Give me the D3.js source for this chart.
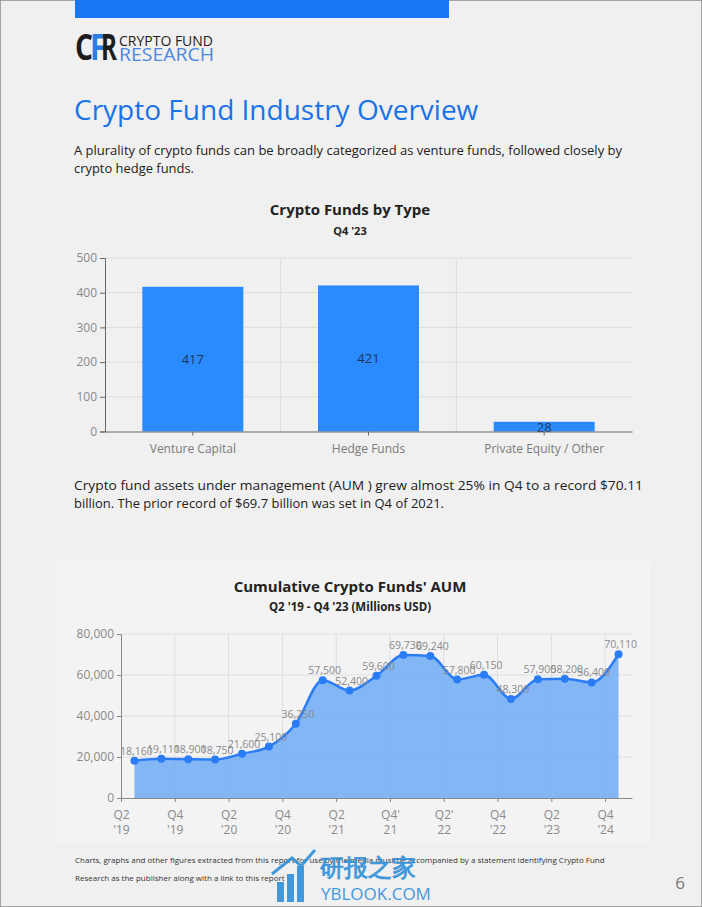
<!DOCTYPE html>
<html>
<head>
<meta charset="utf-8">
<script src="https://cdn.jsdelivr.net/npm/d3@7"></script>
<style>
  html, body { margin: 0; padding: 0; background: #f0f0f0; }
  svg { display: block; }
  text { font-family: "Open Sans", "Noto Sans", sans-serif; }
</style>
</head>
<body>
<svg id="page" width="702" height="907"></svg>
<script>
// ---------- data ----------
const barCategories = ["Venture Capital", "Hedge Funds", "Private Equity / Other"];
const barValues = [417, 421, 28];
const barTicks = [0, 100, 200, 300, 400, 500];

const aumQuarters = ["Q2 '19","Q3 '19","Q4 '19","Q1 '20","Q2 '20","Q3 '20","Q4 '20",
  "Q1 '21","Q2 '21","Q3 '21","Q4 '21","Q1 '22","Q2 '22","Q3 '22","Q4 '22",
  "Q1 '23","Q2 '23","Q3 '23","Q4 '23"];
const aumValues = [18160, 19110, 18900, 18750, 21600, 25100, 36250,
  57500, 52400, 59600, 69730, 69240, 57800, 60150, 48300,
  57900, 58200, 56400, 70110];
const aumTicks = [0, 20000, 40000, 60000, 80000];
const aumTickLabels = [["Q2","'19"],["Q4","'19"],["Q2","'20"],["Q4","'20"],["Q2","'21"],
  ["Q4'","21"],["Q2'","22"],["Q4","'22"],["Q2","'23"],["Q4","'24"]];

// ---------- page ----------
const svg = d3.select("#page");
svg.append("rect").attr("x",0).attr("y",0).attr("width",702).attr("height",907)
  .attr("fill","#f0f0f0").attr("stroke","#8a8a8a").attr("stroke-width",1.5);

// top stripe
svg.append("rect").attr("x",75).attr("y",0).attr("width",374).attr("height",18).attr("fill","#1877f2");

// logo
const logo = svg.append("g");
const logoLetter = (ch, x, w, col) => logo.append("text").attr("x",x).attr("y",60)
  .attr("font-size",36).attr("font-weight",700).attr("fill",col)
  .attr("textLength",w).attr("lengthAdjust","spacingAndGlyphs").text(ch);
logoLetter("C", 75, 18, "#1c1c1c");
logoLetter("F", 90, 16, "#2d7be5");
logoLetter("R", 101, 16, "#1c1c1c");
logo.append("text").attr("x",119).attr("y",46).attr("font-size",15).attr("fill","#222")
  .attr("textLength",94).attr("lengthAdjust","spacingAndGlyphs").text("CRYPTO FUND");
logo.append("text").attr("x",119).attr("y",61).attr("font-size",19).attr("fill","#4c88e0")
  .attr("textLength",95).attr("lengthAdjust","spacingAndGlyphs").text("RESEARCH");

// heading
svg.append("text").attr("x",74).attr("y",120).attr("font-size",28).attr("fill","#1a73e8")
  .text("Crypto Fund Industry Overview");

const para = (lines, y0) => lines.forEach((t,i) =>
  svg.append("text").attr("x",74).attr("y",y0 + i*18).attr("font-size",13.4).attr("fill","#222")
    .attr("textLength",t[1]).attr("lengthAdjust","spacingAndGlyphs").text(t[0]));
para([["A plurality of crypto funds can be broadly categorized as venture funds, followed closely by",548],
      ["crypto hedge funds.",120]], 155);
para([["Crypto fund assets under management (AUM ) grew almost 25% in Q4 to a record $70.11",569],
      ["billion. The prior record of $69.7 billion was set in Q4 of 2021.",370]], 490);

// ---------- bar chart ----------
svg.append("text").attr("x",350).attr("y",215).attr("text-anchor","middle").attr("font-size",15)
  .attr("font-weight",700).attr("fill","#222").text("Crypto Funds by Type");
svg.append("text").attr("x",350).attr("y",235).attr("text-anchor","middle").attr("font-size",11)
  .attr("font-weight",700).attr("fill","#222").text("Q4 '23");

const bx = d3.scaleBand().domain(barCategories).range([105, 632]).paddingInner(0.425).paddingOuter(0.2125);
const by = d3.scaleLinear().domain([0, 500]).range([431.5, 258]);
const bg = svg.append("g");

// horizontal grid
bg.selectAll(".hg").data(barTicks.slice(1)).join("line")
  .attr("x1",105).attr("x2",632).attr("y1",d=>by(d)).attr("y2",d=>by(d))
  .attr("stroke","#dcdcdc").attr("stroke-width",1);
// vertical grid at band boundaries
bg.selectAll(".vg").data(barCategories.slice(1)).join("line")
  .attr("x1",d=>bx(d)-bx.step()*0.2125).attr("x2",d=>bx(d)-bx.step()*0.2125)
  .attr("y1",258).attr("y2",431.5).attr("stroke","#dcdcdc");

bg.selectAll(".bar").data(barCategories).join("rect")
  .attr("x",d=>bx(d)).attr("width",bx.bandwidth())
  .attr("y",(d,i)=>by(barValues[i])).attr("height",(d,i)=>by(0)-by(barValues[i]))
  .attr("fill","#2a8bff");

bg.selectAll(".bl").data(barCategories).join("text")
  .attr("x",d=>bx(d)+bx.bandwidth()/2)
  .attr("y",(d,i)=>(by(barValues[i])+by(0))/2 + 5)
  .attr("text-anchor","middle").attr("font-size",13).attr("fill","#1d3557")
  .text((d,i)=>barValues[i]);

// axes
const byAxis = bg.append("g").attr("transform","translate(105,0)")
  .call(d3.axisLeft(by).tickValues(barTicks).tickSize(5).tickPadding(3));
byAxis.select(".domain").attr("stroke","#666");
byAxis.selectAll(".tick line").attr("stroke","#666");
byAxis.selectAll("text").attr("font-size",12).attr("fill","#8a8a8a").attr("font-family","Open Sans");

const bxAxis = bg.append("g").attr("transform","translate(0,431.5)")
  .call(d3.axisBottom(bx).tickSize(4).tickPadding(9).tickSizeOuter(0));
bxAxis.select(".domain").attr("stroke","#666");
bxAxis.selectAll(".tick line").attr("stroke","#666");
bxAxis.selectAll("text").attr("font-size",12).attr("fill","#7a7a7a").attr("font-family","Open Sans");

// ---------- AUM chart ----------
svg.append("rect").attr("x",56).attr("y",561).attr("width",594).attr("height",282).attr("fill","#f3f3f3");

svg.append("text").attr("x",350).attr("y",592).attr("text-anchor","middle").attr("font-size",15)
  .attr("font-weight",700).attr("fill","#222").text("Cumulative Crypto Funds' AUM");
svg.append("text").attr("x",350).attr("y",611).attr("text-anchor","middle").attr("font-size",11.5)
  .attr("font-weight",700).attr("fill","#222").text("Q2 '19 - Q4 '23 (Millions USD)");

const ax = d3.scaleLinear().domain([-0.5, 18.5]).range([121, 632]);
const ay = d3.scaleLinear().domain([0, 80000]).range([798, 634]);
const tickIdx = aumTickLabels.map((d,k)=>2*k - 0.5);
const ag = svg.append("g");

ag.selectAll(".hg").data(aumTicks.slice(1)).join("line")
  .attr("x1",121).attr("x2",632).attr("y1",d=>ay(d)).attr("y2",d=>ay(d)).attr("stroke","#dedede");
ag.selectAll(".vg").data(tickIdx.slice(1)).join("line")
  .attr("x1",d=>ax(d)).attr("x2",d=>ax(d)).attr("y1",634).attr("y2",798).attr("stroke","#dedede");

const pts = aumValues.map((v,i)=>[i,v]);
ag.append("path").datum(pts)
  .attr("d", d3.area().x(d=>ax(d[0])).y0(ay(0)).y1(d=>ay(d[1])).curve(d3.curveMonotoneX))
  .attr("fill","#6aa8f5").attr("fill-opacity",0.82);
ag.append("path").datum(pts)
  .attr("d", d3.line().x(d=>ax(d[0])).y(d=>ay(d[1])).curve(d3.curveMonotoneX))
  .attr("fill","none").attr("stroke","#2b7df5").attr("stroke-width",2.5);
ag.selectAll(".dot").data(pts).join("circle")
  .attr("cx",d=>ax(d[0])).attr("cy",d=>ay(d[1])).attr("r",4).attr("fill","#2b7df5");
ag.selectAll(".dl").data(pts).join("text")
  .attr("x",d=>ax(d[0])+2).attr("y",d=>ay(d[1])-6).attr("text-anchor","middle")
  .attr("font-size",10.5).attr("fill","#8a8a8a").text(d=>d3.format(",")(d[1]));

const ayAxis = ag.append("g").attr("transform","translate(121,0)")
  .call(d3.axisLeft(ay).tickValues(aumTicks).tickFormat(d3.format(",")).tickSize(4).tickPadding(3));
ayAxis.select(".domain").attr("stroke","#888");
ayAxis.selectAll(".tick line").attr("stroke","#888");
ayAxis.selectAll("text").attr("font-size",12).attr("fill","#8a8a8a").attr("font-family","Open Sans");

const axAxis = ag.append("g").attr("transform","translate(0,798)")
  .call(d3.axisBottom(ax).tickValues(tickIdx).tickSize(4).tickSizeOuter(0).tickFormat(""));
axAxis.select(".domain").attr("stroke","#888");
axAxis.selectAll(".tick line").attr("stroke","#888");
axAxis.selectAll(".tick").each(function(d,k){
  const t = d3.select(this).append("text").attr("fill","#8a8a8a").attr("font-size",12)
    .attr("text-anchor","middle").attr("font-family","Open Sans");
  t.append("tspan").attr("x",0).attr("y",21).text(aumTickLabels[k][0]);
  t.append("tspan").attr("x",0).attr("y",36).text(aumTickLabels[k][1]);
});

// ---------- footer ----------
svg.append("text").attr("x",75).attr("y",863).attr("font-size",8).attr("fill","#333")
  .text("Charts, graphs and other figures extracted from this report for use by the media must be accompanied by a statement identifying Crypto Fund");
svg.append("text").attr("x",75).attr("y",881).attr("font-size",8).attr("fill","#333")
  .text("Research as the publisher along with a link to this report");
svg.append("text").attr("x",680).attr("y",889).attr("text-anchor","middle").attr("font-size",17)
  .attr("fill","#777").text("6");

// watermark
const wm = svg.append("g").attr("opacity",0.9);
[[277,882,7,20],[287,874,7,28],[297,866,7,36]].forEach(b=>
  wm.append("rect").attr("x",b[0]).attr("y",b[1]).attr("width",b[2]).attr("height",902-b[1]).attr("fill","#2f8fd8"));
wm.append("path").attr("d","M272,874 L292,858 L301,866 L315,850").attr("fill","none")
  .attr("stroke","#2f8fd8").attr("stroke-width",3);
wm.append("text").attr("x",320).attr("y",876).attr("font-size",24).attr("font-weight",700)
  .attr("fill","#2f8fd8").attr("font-family","Noto Sans CJK SC").text("研报之家");
wm.append("text").attr("x",321).attr("y",900).attr("font-size",17).attr("fill","#2f8fd8")
  .text("YBLOOK.COM");
</script>
</body>
</html>
